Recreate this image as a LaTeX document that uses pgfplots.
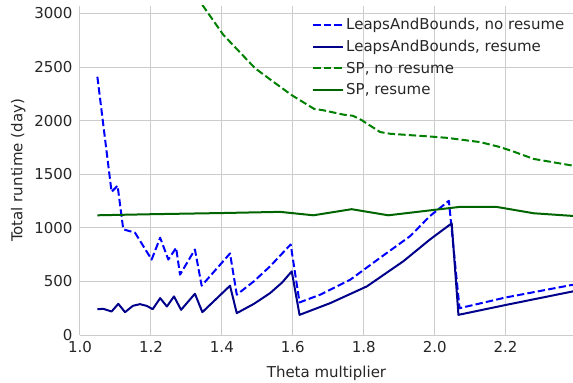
\documentclass[border=0pt]{standalone}
\usepackage{pgfplots}
\pgfplotsset{compat=1.18}
\usepackage{fontspec}
\setmainfont{DejaVu Sans}
\definecolor{txt}{HTML}{262626}
\definecolor{gridc}{HTML}{CCCCCC}
\definecolor{lbnr}{RGB}{0,0,255}
\definecolor{lbr}{RGB}{0,0,139}
\definecolor{spnr}{RGB}{0,128,0}
\definecolor{spr}{RGB}{0,100,0}
\begin{document}
\begin{tikzpicture}
\begin{axis}[
  scale only axis,
  width=493bp, height=329bp,
  xmin=1.0, xmax=2.39,
  ymin=0, ymax=3070,
  xtick={1.0,1.2,1.4,1.6,1.8,2.0,2.2},
  ytick={0,500,1000,1500,2000,2500,3000},
  xticklabel style={/pgf/number format/fixed, /pgf/number format/fixed zerofill, /pgf/number format/precision=1, yshift=-3bp},
  yticklabel style={/pgf/number format/set thousands separator={}, xshift=-4bp},
  /pgf/number format/assume math mode=true,
  tick label style={font=\fontsize{15bp}{18bp}\selectfont, text=txt},
  label style={font=\fontsize{15bp}{18bp}\selectfont, text=txt},
  xlabel style={yshift=-6bp},
  ylabel style={yshift=2bp},
  major tick length=0pt,
  axis line style={draw=none},
  grid=major,
  major grid style={gridc, line width=1bp},
  xlabel={Theta multiplier},
  ylabel={Total runtime (day)},
  legend style={draw=none, fill=none, at={(0.993,0.975)}, anchor=north east,
    font=\fontsize{15bp}{18bp}\selectfont, text=txt, row sep=5bp},
  legend cell align=left,
  legend image code/.code={\draw[#1] (0bp,0bp) -- (30bp,0bp);},
  every axis plot/.append style={line width=2bp, line join=round},
  clip=true,
]
\addplot[lbnr, dash pattern=on 7.4bp off 3.2bp] coordinates {
(1.049,2410) (1.089,1336) (1.106,1393) (1.122,986) (1.155,955) (1.202,704)
(1.226,908) (1.249,704) (1.271,814) (1.282,563) (1.324,798) (1.343,460)
(1.423,761) (1.442,376) (1.490,500) (1.536,641) (1.594,845) (1.619,304)
(1.677,376) (1.762,516) (1.846,720) (1.931,923) (1.987,1111) (2.040,1252)
(2.070,250) (2.200,350) (2.390,469)
};
\addlegendentry{LeapsAndBounds, no resume}
\addplot[lbr] coordinates {
(1.049,241) (1.066,244) (1.089,219) (1.108,291) (1.127,213) (1.149,272)
(1.169,288) (1.188,272) (1.205,241) (1.226,344) (1.245,266) (1.265,360)
(1.285,235) (1.324,385) (1.345,213) (1.423,460) (1.442,204) (1.490,290)
(1.536,391) (1.570,490) (1.597,594) (1.619,188) (1.706,298) (1.809,454)
(1.912,689) (1.987,892) (2.048,1042) (2.067,188) (2.200,280) (2.390,407)
};
\addlegendentry{LeapsAndBounds, resume}
\addplot[spnr, dash pattern=on 7.4bp off 3.2bp] coordinates {
(1.345,3080) (1.404,2801) (1.494,2488) (1.545,2363) (1.597,2238) (1.660,2110)
(1.686,2097) (1.743,2056) (1.770,2045) (1.795,2003) (1.846,1894) (1.874,1878)
(1.987,1852) (2.034,1840) (2.128,1800) (2.185,1753) (2.222,1712) (2.279,1643)
(2.390,1580)
};
\addlegendentry{SP, no resume}
\addplot[spr] coordinates {
(1.049,1117) (1.200,1127) (1.400,1138) (1.564,1149) (1.658,1117) (1.766,1174)
(1.869,1117) (2.000,1168) (2.070,1195) (2.175,1195) (2.279,1136) (2.390,1111)
};
\addlegendentry{SP, resume}
\end{axis}
\pgfresetboundingbox
\path[use as bounding box] ([shift={(-80bp,-48bp)}]current axis.south west) rectangle ([shift={(0bp,6bp)}]current axis.north east);
\end{tikzpicture}
\end{document}
